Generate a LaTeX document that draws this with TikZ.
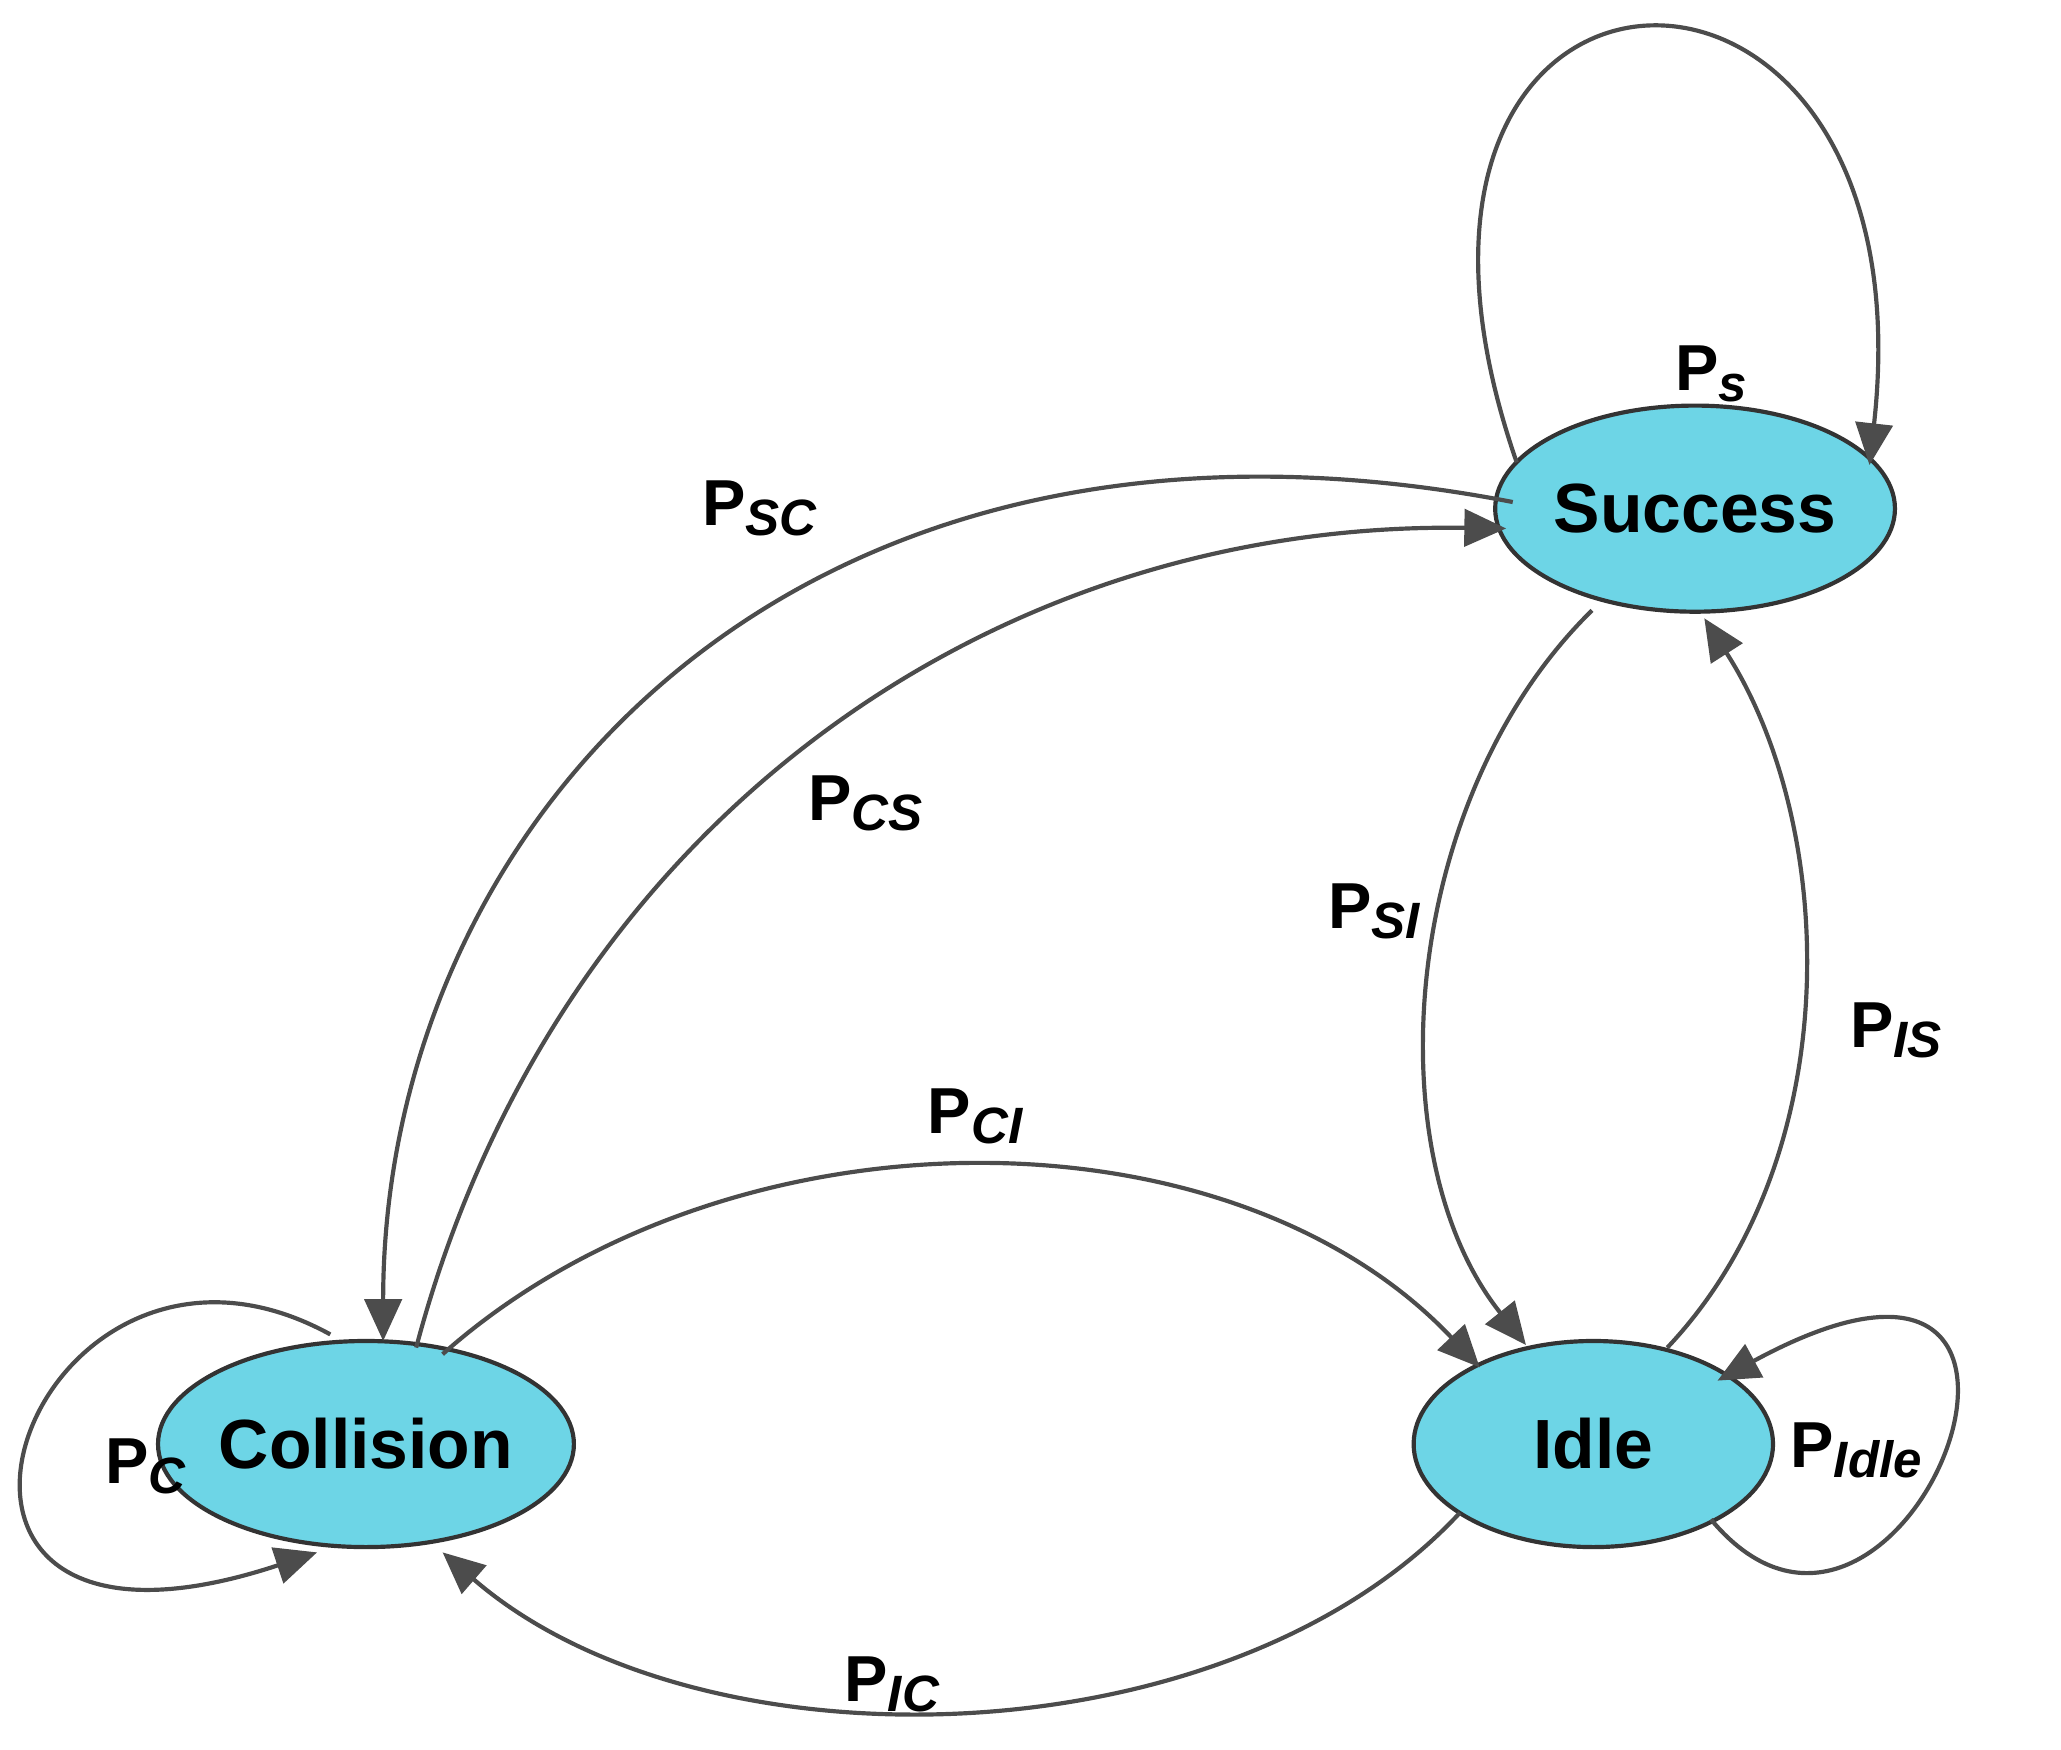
\documentclass[tikz,border=0pt]{standalone}
\usepackage{fontspec}
\setmainfont{Liberation Sans}
\usetikzlibrary{arrows.meta,shapes.geometric}
\begin{document}
\begin{tikzpicture}
\useasboundingbox (0,0) rectangle (15.6,13.24);
\definecolor{st}{HTML}{6DD5E6}
\tikzset{
 state/.style={ellipse,draw=black!80,line width=0.9pt,fill=st,inner sep=0pt,font=\bfseries\fontsize{15}{17}\selectfont},
 edge/.style={draw=black!70,line width=0.9pt,-{Triangle[length=9pt,width=8pt]}},
 lab/.style={font=\bfseries\fontsize{14}{16}\selectfont}
}
\newcommand{\lbl}[1]{P\raisebox{-0.3ex}{\fontsize{11}{12}\selectfont\itshape #1}}
\node[state,minimum width=2.8cm,minimum height=1.56cm] (s) at (12.83,9.39) {Success};
\node[state,minimum width=2.56cm,minimum height=1.56cm] (c) at (2.77,2.31) {Collision};
\node[state,minimum width=2.72cm,minimum height=1.56cm] (i) at (12.06,2.31) {Idle};
\coordinate (sl1) at (11.48,9.74); \coordinate (sl2) at (14.15,9.72);
\draw[edge] (sl1) .. controls (10.0,14.0) and (14.65,14.2) .. (sl2);
\node[lab] (lps) at (12.95,10.41) {\lbl{s}};
\coordinate (a1) at (11.45,9.44); \coordinate (a2) at (2.90,3.09);
\draw[edge] (a1) .. controls (6.0,10.5) and (2.9,7.0) .. (a2);
\node[lab] (lsc) at (5.75,9.39) {\lbl{SC}};
\coordinate (b1) at (3.15,3.04); \coordinate (b2) at (11.40,9.24);
\draw[edge] (b1) .. controls (4.2,7.0) and (7.5,9.3) .. (b2);
\node[lab] (lcs) at (6.55,7.16) {\lbl{CS}};
\coordinate (d1) at (12.05,8.62); \coordinate (d2) at (11.55,3.06);
\draw[edge] (d1) .. controls (10.6,7.2) and (10.4,4.5) .. (d2);
\node[lab] (lsi) at (10.40,6.34) {\lbl{SI}};
\coordinate (e1) at (12.62,3.04); \coordinate (e2) at (12.90,8.56);
\draw[edge] (e1) .. controls (14.0,4.5) and (13.9,7.0) .. (e2);
\node[lab] (lis) at (14.35,5.44) {\lbl{IS}};
\coordinate (f1) at (3.35,2.99); \coordinate (f2) at (11.20,2.89);
\draw[edge] (f1) .. controls (5.5,4.9) and (9.3,4.9) .. (f2);
\node[lab] (lci) at (7.38,4.79) {\lbl{CI}};
\coordinate (g1) at (11.05,1.79); \coordinate (g2) at (3.35,1.49);
\draw[edge] (g1) .. controls (9.3,-0.1) and (5.3,-0.2) .. (g2);
\node[lab] (lic) at (6.75,0.49) {\lbl{IC}};
\coordinate (h1) at (2.50,3.14); \coordinate (h2) at (2.40,1.49);
\draw[edge] (h1) .. controls (0.2,4.4) and (-1.2,0.3) .. (h2);
\node[lab] (lc) at (1.10,2.14) {\lbl{C}};
\coordinate (k1) at (12.95,1.74); \coordinate (k2) at (13.0,2.79);
\draw[edge] (k1) .. controls (14.4,0.0) and (16.15,4.5) .. (k2);
\node[lab] (lid) at (14.05,2.26) {\lbl{Idle}};
\end{tikzpicture}
\end{document}
